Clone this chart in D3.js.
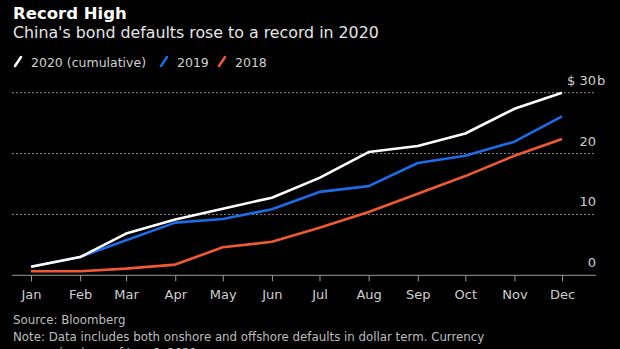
<!DOCTYPE html>
<html>
<head>
<meta charset="utf-8">
<script src="https://cdn.jsdelivr.net/npm/d3@7"></script>
<style>
  body { margin: 0; background: #000; }
  svg { display: block; font-family: "DejaVu Sans", sans-serif; }
</style>
</head>
<body>
<svg id="chart"></svg>
<script>
const width = 620, height = 349;

// data (billions of dollars, cumulative)
const months = ["Jan", "Feb", "Mar", "Apr", "May", "Jun", "Jul", "Aug", "Sep", "Oct", "Nov", "Dec"];
const values2020 = [1.4, 3.0, 6.85, 9.15, 10.95, 12.75, 16.0, 20.25, 21.25, 23.3, 27.35, 30.0];
const values2019 = [1.4, 3.0, 5.75, 8.65, 9.25, 10.85, 13.7, 14.65, 18.45, 19.65, 21.95, 26.1];
const values2018 = [0.66, 0.66, 1.1, 1.76, 4.6, 5.5, 7.8, 10.4, 13.4, 16.3, 19.65, 22.4];
const yTicks = [0, 10, 20, 30];

const series = [
  { name: "2020 (cumulative)", values: values2020, color: "#ffffff" },
  { name: "2019", values: values2019, color: "#1f6be6" },
  { name: "2018", values: values2018, color: "#ef5a34" }
];

const svg = d3.select("#chart")
  .attr("width", width)
  .attr("height", height);

svg.append("rect").attr("width", width).attr("height", height).attr("fill", "#000");

// titles
svg.append("text")
  .attr("x", 13).attr("y", 18.5)
  .attr("fill", "#fff")
  .attr("font-size", 16.5).attr("font-weight", "bold")
  .text("Record High");

svg.append("text")
  .attr("x", 13).attr("y", 37.5)
  .attr("fill", "#e6e6e6")
  .attr("font-size", 15.8)
  .text("China's bond defaults rose to a record in 2020");

// legend
const legendX = [15, 161, 219];
const legend = svg.selectAll("g.legend")
  .data(series)
  .enter().append("g")
  .attr("class", "legend")
  .attr("transform", (d, i) => `translate(${legendX[i]}, 62)`);
legend.append("line")
  .attr("x1", 0).attr("y1", 4).attr("x2", 6).attr("y2", -5)
  .attr("stroke", d => d.color)
  .attr("stroke-width", 2.5)
  .attr("stroke-linecap", "round");
legend.append("text")
  .attr("x", 16).attr("y", 4.5)
  .attr("fill", "#d0d0d0")
  .attr("font-size", 12.5)
  .text(d => d.name);

// scales
const dates = months.map((m, i) => new Date(2020, i, 1));
const x = d3.scaleTime()
  .domain([dates[0], dates[11]])
  .range([31, 562]);

const y = d3.scaleLinear()
  .domain([0, 30])
  .range([275.3, 92.7]);

// grid lines
svg.append("g")
  .selectAll("line")
  .data(yTicks.filter(d => d > 0))
  .enter().append("line")
  .attr("x1", 12).attr("x2", 596)
  .attr("y1", d => y(d)).attr("y2", d => y(d))
  .attr("stroke", "#8a8a8a")
  .attr("stroke-width", 1)
  .attr("stroke-dasharray", "2,2");

// y labels
svg.append("g")
  .selectAll("text")
  .data(yTicks)
  .enter().append("text")
  .attr("x", 596)
  .attr("y", d => y(d) - 8)
  .attr("text-anchor", "end")
  .attr("fill", "#cfcfcf")
  .attr("font-size", 13)
  .text(d => d === 30 ? "$ 30" : d);
svg.append("text")
  .attr("x", 597).attr("y", y(30) - 8)
  .attr("fill", "#cfcfcf")
  .attr("font-size", 13)
  .text("b");

// x axis
const xAxis = svg.append("g")
  .attr("transform", `translate(0, ${y(0)})`)
  .call(d3.axisBottom(x)
    .tickValues(dates)
    .tickFormat((d, i) => months[i])
    .tickSize(6)
    .tickPadding(8));
xAxis.select(".domain").remove();
xAxis.selectAll(".tick line").attr("stroke", "#9a9a9a");
xAxis.selectAll(".tick text")
  .attr("fill", "#cfcfcf")
  .attr("font-size", 13)
  .attr("font-family", "DejaVu Sans, sans-serif");
svg.append("line")
  .attr("x1", 12).attr("x2", 596)
  .attr("y1", y(0)).attr("y2", y(0))
  .attr("stroke", "#9a9a9a")
  .attr("stroke-width", 1);

// lines (2018 first so 2020 sits on top)
const line = d3.line()
  .x((d, i) => x(dates[i]))
  .y(d => y(d));

svg.append("g")
  .selectAll("path")
  .data(series.slice().reverse())
  .enter().append("path")
  .attr("fill", "none")
  .attr("stroke", d => d.color)
  .attr("stroke-width", 2.6)
  .attr("stroke-linejoin", "round")
  .attr("d", d => line(d.values));

// footer (last line is cut by the bottom edge, as in the original)
const notes = [
  "Source: Bloomberg",
  "Note: Data includes both onshore and offshore defaults in dollar term. Currency",
  "conversion is as of Jan. 6, 2021."
];
svg.append("g")
  .selectAll("text")
  .data(notes)
  .enter().append("text")
  .attr("x", 13)
  .attr("y", (d, i) => 324 + i * 16.5)
  .attr("fill", "#bdbdbd")
  .attr("font-size", 11.8)
  .text(d => d);
</script>
</body>
</html>
